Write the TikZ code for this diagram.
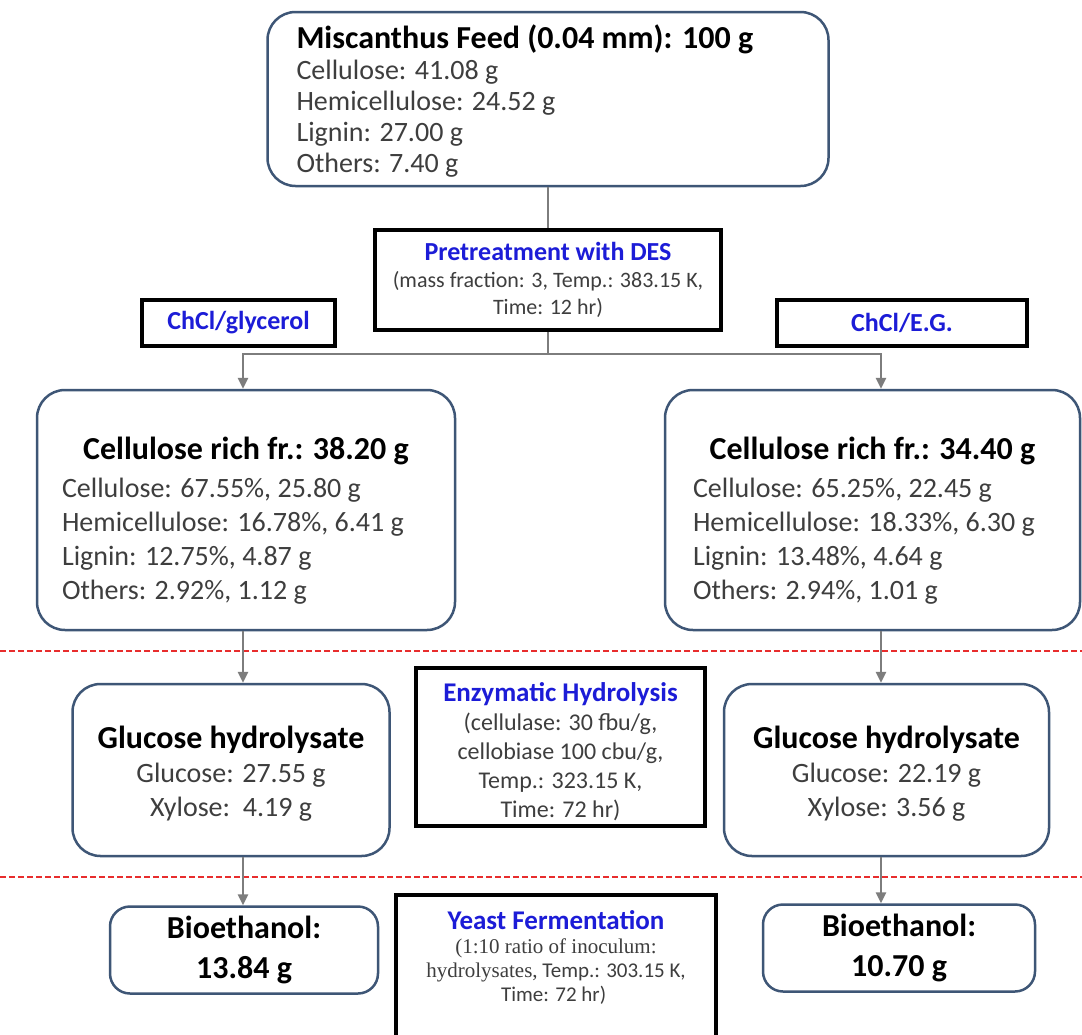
\documentclass[tikz,border=0pt]{standalone}
\usepackage{fontspec}
\setmainfont{Carlito}
\newfontfamily\serifpart{Liberation Serif}
\usepackage{tikz}
\usetikzlibrary{arrows.meta}

\definecolor{boxblue}{RGB}{62,86,118}
\definecolor{titleblue}{RGB}{28,28,215}
\definecolor{bodygray}{RGB}{62,62,62}
\definecolor{flowgray}{RGB}{125,125,125}
\definecolor{cutred}{RGB}{232,45,45}

\newcommand{\boxhead}[1]{{\color{black}\fontsize{32}{38}\selectfont\bfseries #1\par}}
\newcommand{\stagehead}[2]{{\color{titleblue}\fontsize{#2}{#2}\selectfont\bfseries #1\par}}

\tikzset{
  stream/.style={draw=boxblue, line width=2.5pt, rounded corners=28pt, fill=white,
    inner sep=0pt, align=center, text=bodygray},
  stage/.style={draw=black, line width=3.5pt, fill=white, inner sep=0pt, align=center, text=bodygray},
  solvent/.style={stage, text=titleblue, font=\fontsize{26}{30}\selectfont\bfseries},
  link/.style={draw=flowgray, line width=2.5pt},
  flow/.style={link, -{Triangle[length=11pt,width=10pt]}},
  cut/.style={draw=cutred, line width=2pt, dash pattern=on 6pt off 3pt}
}

\begin{document}
\begin{tikzpicture}[x=1pt,y=-1pt]
      \useasboundingbox[fill=white] (0,0) rectangle (1082,1034);

      \draw[cut] (0,651) -- (1082,651);
      \draw[cut] (0,877) -- (1082,877);

      \node[stream, minimum width=561pt, minimum height=174pt] (feed) at (548,99)
        {\begin{minipage}{503pt}\raggedright
          \vspace*{4pt}
          \boxhead{Miscanthus Feed (0.04 mm): 100 g}
          \fontsize{28}{31}\selectfont
          Cellulose: 41.08 g\\ Hemicellulose: 24.52 g\\ Lignin: 27.00 g\\ Others: 7.40 g
        \end{minipage}};

      \node[stage, minimum width=346pt, minimum height=100pt] (pre) at (548,280)
        {\begin{minipage}{340pt}\centering
          \stagehead{Pretreatment with DES}{26}
          \fontsize{22}{27}\selectfont (mass fraction: 3, Temp.: 383.15 K,\\ Time: 12 hr)
        \end{minipage}};
      \node[solvent, minimum width=193pt, minimum height=46pt] (glyc) at (238.5,323) {ChCl/glycerol};
      \node[solvent, minimum width=250pt, minimum height=46pt] (eg) at (902,323) {ChCl/E.G.};

      \node[stream, minimum width=418pt, minimum height=240pt] (cellL) at (246,510)
        {\begin{minipage}{368pt}\centering
          \vspace*{22pt}
          \boxhead{Cellulose rich fr.: 38.20 g}
          \vspace{4pt}
          \raggedright\fontsize{28}{34}\selectfont
          Cellulose: 67.55\%, 25.80 g\\ Hemicellulose: 16.78\%, 6.41 g\\ Lignin: 12.75\%, 4.87 g\\ Others: 2.92\%, 1.12 g
        \end{minipage}};
      \node[stream, minimum width=415pt, minimum height=240pt] (cellR) at (872.5,510)
        {\begin{minipage}{359pt}\centering
          \vspace*{22pt}
          \boxhead{Cellulose rich fr.: 34.40 g}
          \vspace{4pt}
          \raggedright\fontsize{28}{34}\selectfont
          Cellulose: 65.25\%, 22.45 g\\ Hemicellulose: 18.33\%, 6.30 g\\ Lignin: 13.48\%, 4.64 g\\ Others: 2.94\%, 1.01 g
        \end{minipage}};

      \node[stage, minimum width=289pt, minimum height=158pt] (enz) at (560.5,747)
        {\begin{minipage}{285pt}\centering
          \vspace*{10pt}
          \stagehead{Enzymatic Hydrolysis}{27}
          \fontsize{24}{29}\selectfont (cellulase: 30 fbu/g,\\ cellobiase 100 cbu/g,\\ Temp.: 323.15 K,\\ Time: 72 hr)
        \end{minipage}};

      \node[stream, minimum width=317pt, minimum height=172pt] (glucL) at (231,770)
        {\begin{minipage}{310pt}\centering
          \vspace*{8pt}
          \boxhead{Glucose hydrolysate}
          \fontsize{28}{34}\selectfont Glucose: 27.55 g\\ Xylose:~~4.19 g
        \end{minipage}};
      \node[stream, minimum width=325pt, minimum height=172pt] (glucR) at (886.5,770)
        {\begin{minipage}{318pt}\centering
          \vspace*{8pt}
          \boxhead{Glucose hydrolysate}
          \fontsize{28}{34}\selectfont Glucose: 22.19 g\\ Xylose: 3.56 g
        \end{minipage}};

      \node[stage, minimum width=320pt, minimum height=155pt] (yeast) at (556,972.5)
        {\begin{minipage}{316pt}\centering
          \stagehead{Yeast Fermentation}{27}
          \fontsize{21}{24}\selectfont {\serifpart (1:10 ratio of inoculum:}\\
          {\serifpart hydrolysates,} Temp.: 303.15 K,\\ Time: 72 hr)
          \vspace*{30pt}
        \end{minipage}};

      \node[stream, rounded corners=20pt, minimum width=268pt, minimum height=87pt, text=black,
        font=\fontsize{32}{40}\selectfont\bfseries] (bioL) at (244,950) {Bioethanol:\\ 13.84 g};
      \node[stream, rounded corners=20pt, minimum width=272pt, minimum height=87pt, text=black,
        font=\fontsize{32}{40}\selectfont\bfseries] (bioR) at (899,948) {Bioethanol:\\ 10.70 g};

      \coordinate (split) at (548,354);
      \coordinate (colL) at (243,0);
      \coordinate (colR) at (881,0);

      \draw[link] (feed) -- (pre);
      \draw[link] (pre) -- (split);
      \draw[flow] (split) -| (colL |- cellL.north);
      \draw[flow] (split) -| (colR |- cellR.north);
      \draw[flow] (colL |- cellL.south) -- (colL |- glucL.north);
      \draw[flow] (colR |- cellR.south) -- (colR |- glucR.north);
      \draw[flow] (colL |- glucL.south) -- (colL |- bioL.north);
      \draw[flow] (colR |- glucR.south) -- (colR |- bioR.north);
    \end{tikzpicture}
\end{document}
